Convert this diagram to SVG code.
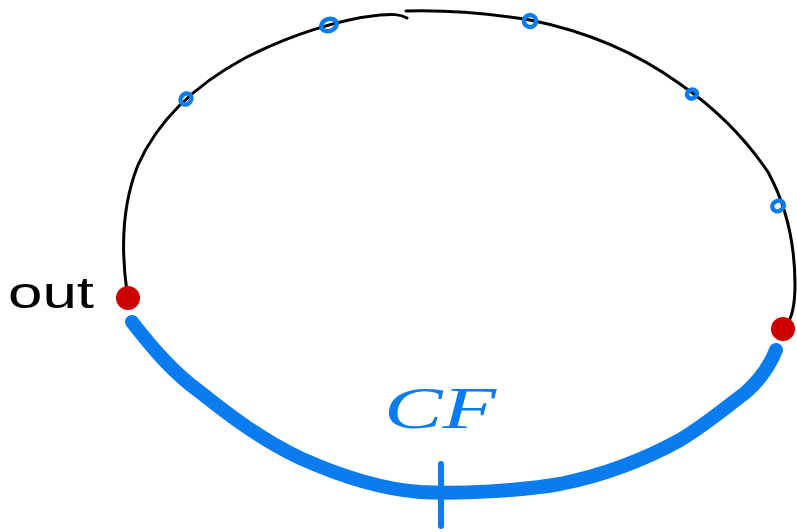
<svg xmlns="http://www.w3.org/2000/svg" width="797" height="532" viewBox="0 0 797 532">
<style>
.ink{fill:none;stroke:#000;stroke-width:3;stroke-linecap:round;stroke-linejoin:round}
.cf{fill:none;stroke:#0a7cf0;stroke-width:14;stroke-linecap:round;stroke-linejoin:round}
.mark{fill:none;stroke:#0a7cf0;stroke-width:4.5}
.dot{fill:#cc0000}
.lbl{font-family:"Liberation Sans",Arial,sans-serif}
</style>
<rect width="797" height="532" fill="#fff"/>
<g id="connectors">
<path class="ink" d="M127,292 C121,250 122,205 138,165 C158,120 195,85 245,58 C290,35 340,19 380,15 C392,14 400,14 407,18"/>
<path class="ink" d="M406,11 C440,10 480,12 530,20 C590,32 640,55 680,84 C715,108 745,138 768,172 C786,205 795,245 795,285 C795,305 792,318 786,326"/>
<path class="cf" d="M132,322 C150,345 172,372 200,392 C230,416 262,440 300,458 C340,476 380,489 420,492 C460,494 520,491 560,484 C600,476 640,462 680,440 C705,425 725,408 745,393 C760,380 770,365 776,350"/>
<path d="M441,464 L441,526" stroke="#0a7cf0" stroke-width="6" stroke-linecap="round"/>
</g>
<g id="mark1"><ellipse class="mark" cx="186" cy="99" rx="6" ry="5" transform="rotate(-50 186 99)"/></g>
<g id="mark2"><ellipse class="mark" cx="329" cy="25" rx="8" ry="6" transform="rotate(-20 329 25)"/></g>
<g id="mark3"><ellipse class="mark" cx="530" cy="21" rx="6" ry="6" transform="rotate(10 530 21)"/></g>
<g id="mark4"><ellipse class="mark" cx="692" cy="94" rx="5" ry="4.5" transform="rotate(-20 692 94)"/></g>
<g id="mark5"><ellipse class="mark" cx="778" cy="206" rx="6" ry="5" transform="rotate(-30 778 206)"/></g>
<g id="out-point"><circle class="dot" cx="128" cy="298" r="12"/></g>
<g id="end-point"><circle class="dot" cx="783" cy="329" r="12"/></g>
<g id="label-out"><text class="lbl" x="8" y="308" font-size="44" textLength="86" lengthAdjust="spacingAndGlyphs" fill="#000">out</text></g>
<g id="label-cf"><text x="384" y="428" font-family="Liberation Serif,serif" font-style="italic" font-size="60" textLength="112" lengthAdjust="spacingAndGlyphs" fill="#0a7cf0">CF</text></g>
</svg>
